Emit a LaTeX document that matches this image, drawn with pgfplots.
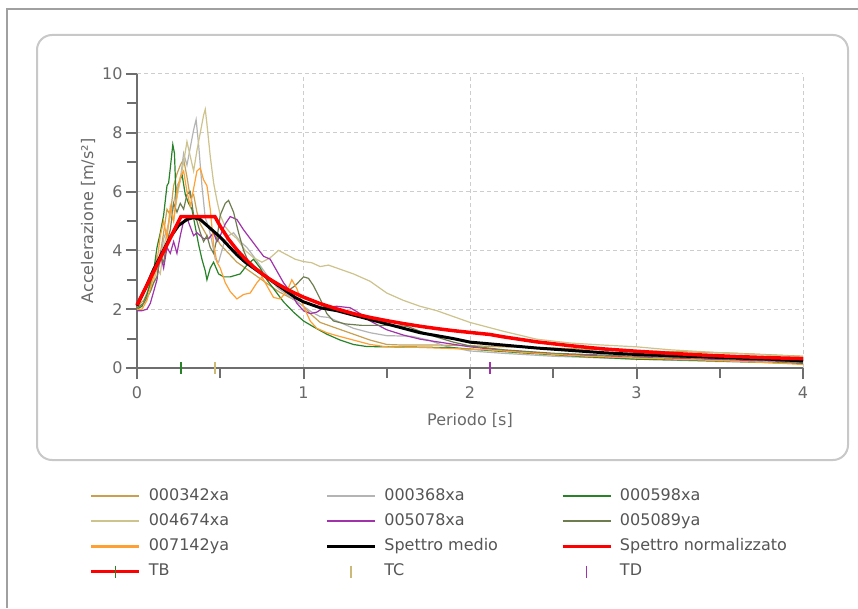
\documentclass[border=0pt]{standalone}
\usepackage{fontspec}
\setmainfont{DejaVu Sans}
\usepackage{pgfplots}
\pgfplotsset{compat=1.18}
\definecolor{cA}{RGB}{200,160,80}
\definecolor{cB}{RGB}{180,180,180}
\definecolor{cC}{RGB}{40,130,40}
\definecolor{cD}{RGB}{205,195,140}
\definecolor{cE}{RGB}{160,50,170}
\definecolor{cF}{RGB}{110,125,80}
\definecolor{cG}{RGB}{255,160,50}
\definecolor{tccol}{RGB}{205,185,120}
\definecolor{axiscol}{RGB}{110,110,110}
\definecolor{gridcol}{RGB}{205,205,205}
\definecolor{ticktext}{RGB}{105,105,105}
\definecolor{legtext}{RGB}{85,85,85}
\definecolor{panelcol}{RGB}{200,200,200}
\definecolor{outercol}{RGB}{160,160,160}
\definecolor{redline}{RGB}{255,0,0}
\begin{document}
\begin{tikzpicture}
\path[use as bounding box] (0,0) rectangle (858pt,608pt);
\fill[white] (0,0) rectangle (858pt,608pt);
\draw[outercol, line width=1.5pt] (7pt,0pt) -- (7pt,599pt) -- (858pt,599pt);
\draw[panelcol, line width=2pt, rounded corners=15pt] (37pt,148pt) rectangle (848pt,573pt);
\begin{axis}[
  at={(137pt,240pt)}, anchor=south west,
  scale only axis, width=666pt, height=294pt,
  xmin=0, xmax=4, ymin=0, ymax=10,
  axis lines*=left,
  axis line style={axiscol, line width=2pt},
  xtick={0,1,2,3,4}, ytick={0,2,4,6,8,10},
  minor x tick num=1, minor y tick num=1,
  tick align=outside, major tick length=11pt, minor tick length=10pt,
  every tick/.style={axiscol, line width=2pt},
  grid=major,
  major grid style={gridcol, line width=1pt, dash pattern=on 4pt off 3pt},
  /pgf/number format/assume math mode=true,
  tick label style={font=\fontsize{16}{16}\selectfont, text=ticktext},
  xticklabel style={yshift=-4pt},
  xlabel={Periodo [s]},
  ylabel={Accelerazione [m/s²]},
  every axis x label/.style={at={(axis description cs:0.5,-0.177)}, anchor=center, font=\fontsize{16}{16}\selectfont, text=ticktext},
  every axis y label/.style={at={(axis description cs:-0.0736,0.5)}, rotate=90, anchor=center, font=\fontsize{16}{16}\selectfont, text=ticktext},
  clip=false,
  legend columns=3,
  legend cell align=left,
  legend style={draw=none, fill=none, at={(-0.0706,-0.401)}, anchor=north west,
    font=\fontsize{16}{16}\selectfont, text=legtext, inner sep=0pt, row sep=5.8pt,
    nodes={inner sep=2pt, text height=12pt, text depth=3.5pt},
    /tikz/every odd column/.append style={column sep=6pt}},
  legend image code/.code={\draw[mark repeat=2,mark phase=2,#1,line width=2.6pt] plot coordinates {(0pt,0pt) (24pt,0pt) (48pt,0pt)};},
]
% 000342xa
\addplot[cA, line width=1.2pt] coordinates {
(0,2.1) (0.04,2.3) (0.08,2.8) (0.1,3.2) (0.12,3.5) (0.14,3.9) (0.16,4.6) (0.18,5.4) (0.2,5.2) (0.22,6.2) (0.24,6.6) (0.26,6.9) (0.28,7.1) (0.3,6.5) (0.32,5.8) (0.34,5.9) (0.36,5.3) (0.38,4.9) (0.4,4.7) (0.43,4.4) (0.46,4.6) (0.5,4.2) (0.55,3.9) (0.6,3.6) (0.65,3.4) (0.7,3.2) (0.75,3.0) (0.8,2.8) (0.85,2.6) (0.9,2.45) (0.95,2.3) (1.0,2.1) (1.05,1.8) (1.1,1.55) (1.2,1.35) (1.3,1.15) (1.4,0.95) (1.5,0.8) (1.6,0.78) (1.8,0.78) (2.0,0.76) (2.2,0.72) (2.5,0.68) (2.8,0.62) (3.0,0.58) (3.3,0.55) (3.6,0.5) (4.0,0.4)};
\addlegendentry{\makebox[175pt][l]{000342xa}}
% 000368xa
\addplot[cB, line width=1.2pt] coordinates {
(0,2.0) (0.04,2.2) (0.08,2.9) (0.1,3.3) (0.12,3.8) (0.14,3.6) (0.16,4.4) (0.18,4.7) (0.2,5.2) (0.22,5.6) (0.24,6.2) (0.26,6.4) (0.28,7.3) (0.3,6.9) (0.32,7.5) (0.34,8.1) (0.355,8.45) (0.37,7.6) (0.39,6.2) (0.41,5.1) (0.43,4.8) (0.45,4.3) (0.47,3.7) (0.49,3.6) (0.52,4.2) (0.55,4.5) (0.58,4.6) (0.62,4.3) (0.66,4.1) (0.7,3.8) (0.75,3.4) (0.8,3.0) (0.85,2.7) (0.9,2.5) (0.95,2.3) (1.0,2.1) (1.05,1.9) (1.1,1.75) (1.15,1.72) (1.2,1.6) (1.3,1.35) (1.4,1.2) (1.5,1.1) (1.65,1.08) (1.75,0.95) (1.85,0.75) (2.0,0.58) (2.2,0.5) (2.5,0.4) (3.0,0.3) (3.5,0.22) (4.0,0.17)};
\addlegendentry{\makebox[175pt][l]{000368xa}}
% 000598xa
\addplot[cC, line width=1.2pt] coordinates {
(0,2.0) (0.03,2.1) (0.06,2.5) (0.08,2.9) (0.1,3.3) (0.12,4.1) (0.14,4.6) (0.16,5.2) (0.18,6.2) (0.19,6.3) (0.2,6.8) (0.215,7.6) (0.225,7.3) (0.235,5.7) (0.25,6.2) (0.27,6.6) (0.29,5.9) (0.31,5.6) (0.33,5.4) (0.35,4.8) (0.37,4.2) (0.39,3.7) (0.41,3.3) (0.42,3.0) (0.44,3.4) (0.46,3.6) (0.49,3.2) (0.52,3.1) (0.56,3.1) (0.62,3.2) (0.66,3.5) (0.70,3.7) (0.74,3.4) (0.78,3.0) (0.82,2.7) (0.88,2.25) (0.94,1.9) (1.0,1.6) (1.06,1.4) (1.14,1.15) (1.22,0.95) (1.3,0.8) (1.38,0.73) (1.5,0.72) (1.7,0.71) (1.9,0.69) (2.1,0.6) (2.3,0.52) (2.5,0.45) (2.7,0.38) (3.0,0.3) (3.3,0.27) (3.6,0.22) (4.0,0.15)};
\addlegendentry{\makebox[175pt][l]{000598xa}}
% 004674xa
\addplot[cD, line width=1.2pt] coordinates {
(0,2.05) (0.04,2.2) (0.08,2.6) (0.1,2.9) (0.12,3.4) (0.14,3.2) (0.16,4.1) (0.18,4.6) (0.2,5.2) (0.22,5.0) (0.24,5.8) (0.26,6.4) (0.28,7.0) (0.3,7.7) (0.32,7.2) (0.34,6.7) (0.36,7.4) (0.38,8.0) (0.40,8.6) (0.41,8.8) (0.42,8.3) (0.44,7.2) (0.46,6.3) (0.48,5.7) (0.5,5.2) (0.53,4.8) (0.56,4.6) (0.6,4.4) (0.65,4.0) (0.7,3.75) (0.75,3.6) (0.8,3.75) (0.85,4.0) (0.9,3.85) (0.95,3.7) (1.0,3.62) (1.05,3.58) (1.1,3.45) (1.15,3.5) (1.2,3.4) (1.3,3.2) (1.4,2.95) (1.5,2.55) (1.6,2.3) (1.7,2.1) (1.8,1.95) (1.9,1.75) (2.0,1.55) (2.2,1.25) (2.4,0.98) (2.6,0.85) (2.8,0.78) (3.0,0.72) (3.2,0.62) (3.5,0.52) (3.8,0.44) (4.0,0.39)};
\addlegendentry{\makebox[175pt][l]{004674xa}}
% 005078xa
\addplot[cE, line width=1.2pt] coordinates {
(0,1.95) (0.03,1.95) (0.06,2.0) (0.08,2.2) (0.1,2.6) (0.12,3.0) (0.14,3.9) (0.16,3.4) (0.18,4.1) (0.2,3.9) (0.22,4.3) (0.24,3.9) (0.26,4.5) (0.28,5.0) (0.3,5.1) (0.32,4.8) (0.34,4.5) (0.36,4.6) (0.38,4.5) (0.40,4.4) (0.43,4.4) (0.46,4.6) (0.48,4.3) (0.5,4.5) (0.53,4.9) (0.56,5.15) (0.6,5.05) (0.64,4.7) (0.68,4.4) (0.72,4.1) (0.76,3.8) (0.8,3.7) (0.84,3.3) (0.88,2.9) (0.92,2.6) (0.96,2.2) (1.0,1.95) (1.04,1.85) (1.08,1.9) (1.12,2.05) (1.2,2.1) (1.28,2.05) (1.34,1.85) (1.4,1.6) (1.5,1.3) (1.6,1.12) (1.7,0.98) (1.85,0.85) (2.0,0.72) (2.2,0.6) (2.4,0.52) (2.6,0.45) (3.0,0.36) (3.4,0.3) (3.8,0.24) (4.0,0.2)};
\addlegendentry{\makebox[175pt][l]{005078xa}}
% 005089ya
\addplot[cF, line width=1.2pt] coordinates {
(0,2.05) (0.04,2.2) (0.08,2.6) (0.1,2.9) (0.12,3.1) (0.14,3.8) (0.16,3.6) (0.18,4.3) (0.2,4.7) (0.22,5.6) (0.24,5.3) (0.26,5.6) (0.28,5.4) (0.3,5.9) (0.32,6.0) (0.34,5.2) (0.36,5.0) (0.38,4.6) (0.4,4.3) (0.42,4.5) (0.44,4.1) (0.46,3.9) (0.48,4.4) (0.5,5.2) (0.53,5.6) (0.55,5.7) (0.58,5.3) (0.61,4.6) (0.64,4.0) (0.67,3.6) (0.7,3.4) (0.75,3.2) (0.8,3.05) (0.85,2.8) (0.9,2.6) (0.95,2.8) (1.0,3.1) (1.03,3.05) (1.06,2.8) (1.1,2.35) (1.14,1.85) (1.18,1.6) (1.25,1.5) (1.35,1.45) (1.5,1.45) (1.62,1.42) (1.7,1.25) (1.8,1.05) (1.9,0.88) (2.0,0.75) (2.2,0.62) (2.5,0.5) (3.0,0.4) (3.5,0.32) (4.0,0.22)};
\addlegendentry{\makebox[175pt][l]{005089ya}}
% 007142ya
\addplot[cG, line width=1.2pt] coordinates {
(0,2.0) (0.03,2.0) (0.06,2.3) (0.08,2.7) (0.1,3.1) (0.12,3.6) (0.14,4.5) (0.16,5.0) (0.18,4.4) (0.2,5.5) (0.22,5.0) (0.24,6.0) (0.26,6.5) (0.28,6.7) (0.3,6.0) (0.32,5.5) (0.34,6.1) (0.36,6.7) (0.38,6.8) (0.40,6.4) (0.42,6.2) (0.44,5.4) (0.46,4.2) (0.48,3.6) (0.5,3.4) (0.53,2.9) (0.56,2.6) (0.6,2.35) (0.64,2.5) (0.68,2.55) (0.72,2.9) (0.75,3.1) (0.78,2.8) (0.82,2.4) (0.86,2.35) (0.9,2.6) (0.93,3.0) (0.96,2.7) (1.0,2.1) (1.04,1.6) (1.08,1.35) (1.14,1.2) (1.2,1.1) (1.3,0.95) (1.4,0.8) (1.5,0.72) (1.7,0.7) (1.9,0.66) (2.1,0.62) (2.4,0.5) (2.7,0.4) (3.0,0.34) (3.4,0.27) (3.8,0.18) (4.0,0.12)};
\addlegendentry{\makebox[175pt][l]{007142ya}}
% Spettro medio
\addplot[black, line width=3pt] coordinates {
(0,2.12) (0.05,2.7) (0.1,3.35) (0.15,3.9) (0.2,4.45) (0.25,4.85) (0.3,5.05) (0.34,5.12) (0.38,5.05) (0.42,4.85) (0.46,4.65) (0.5,4.45) (0.55,4.15) (0.6,3.85) (0.65,3.6) (0.7,3.4) (0.75,3.2) (0.8,3.0) (0.85,2.8) (0.9,2.6) (0.95,2.4) (1.0,2.25) (1.1,2.05) (1.2,1.95) (1.3,1.8) (1.4,1.65) (1.5,1.5) (1.6,1.35) (1.7,1.2) (1.8,1.1) (1.9,1.0) (2.0,0.88) (2.2,0.78) (2.4,0.68) (2.6,0.6) (2.8,0.52) (3.0,0.46) (3.2,0.42) (3.4,0.38) (3.6,0.34) (3.8,0.3) (4.0,0.24)};
\addlegendentry{\makebox[175pt][l]{Spettro medio}}
% Spettro normalizzato
\addplot[redline, line width=3.5pt] coordinates {
(0,2.14) (0.264,5.15) (0.468,5.15) (0.5,4.82) (0.55,4.38) (0.6,4.02) (0.65,3.71) (0.7,3.44) (0.75,3.21) (0.8,3.01) (0.85,2.84) (0.9,2.68) (0.95,2.54) (1.0,2.41) (1.1,2.19) (1.2,2.01) (1.3,1.85) (1.4,1.72) (1.5,1.61) (1.6,1.51) (1.7,1.42) (1.8,1.34) (1.9,1.27) (2.0,1.21) (2.12,1.14) (2.2,1.06) (2.4,0.89) (2.6,0.76) (2.8,0.65) (3.0,0.57) (3.2,0.50) (3.4,0.44) (3.6,0.39) (3.8,0.35) (4.0,0.32)};
\addlegendentry{\makebox[175pt][l]{Spettro normalizzato}}
% TB, TC, TD
\addplot[redline, line width=3pt, mark=|, mark size=6pt, mark options={cC, line width=1.2pt}] coordinates {(0.264,0)};
\addlegendentry{\makebox[175pt][l]{TB}}
\addplot[only marks, mark=|, mark size=6pt, mark options={tccol, line width=1.2pt}] coordinates {(0.468,0)};
\addlegendentry{\makebox[175pt][l]{TC}}
\addplot[only marks, mark=|, mark size=6pt, mark options={cE, line width=1.2pt}] coordinates {(2.12,0)};
\addlegendentry{\makebox[175pt][l]{TD}}
\end{axis}
\end{tikzpicture}
\end{document}
